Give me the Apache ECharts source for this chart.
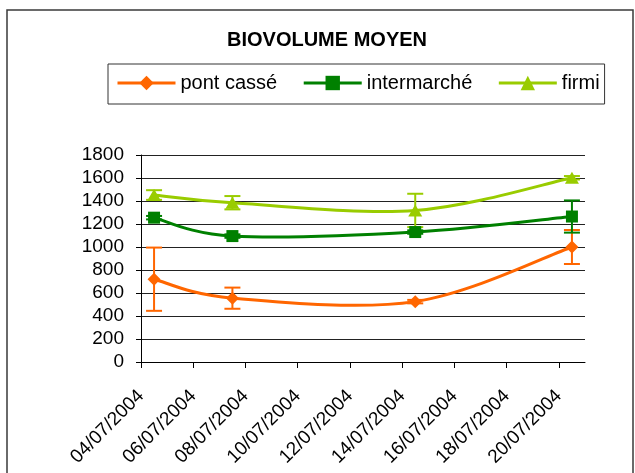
<!DOCTYPE html>
<html>
<head>
<meta charset="utf-8">
<script src="https://cdn.jsdelivr.net/npm/echarts@6/dist/echarts.min.js"></script>
<style>
  html, body { margin: 0; padding: 0; background: #fff; }
  #chart { width: 635px; height: 473px; }
</style>
</head>
<body>
<div id="chart"></div>
<script>
// axe des dates : jours comptés depuis le 04/07/2004
const xTickDays = [0, 2, 4, 6, 8, 10, 12, 14, 16];
const xTickLabels = ['04/07/2004', '06/07/2004', '08/07/2004', '10/07/2004', '12/07/2004',
  '14/07/2004', '16/07/2004', '18/07/2004', '20/07/2004'];

// jours de prélèvement (04/07, 07/07, 14/07, 20/07)
const sampleDays = [0, 3, 10, 16];

const seriesNames = ['pont cassé', 'intermarché', 'firmi'];
const pontCasse = [720, 555, 525, 1000];
const pontCasseErr = [275, 92, 15, 148];
const intermarche = [1255, 1095, 1130, 1265];
const intermarcheErr = [15, 15, 15, 140];
const firmi = [1452, 1385, 1318, 1602];
const firmiErr = [42, 58, 145, 15];

const colors = ['#ff6600', '#008000', '#99cc00'];
const symbols = ['diamond', 'rect', 'triangle'];
const symbolSizes = [13, 12, [14, 12]];

const FONT = "'Liberation Sans', Arial, sans-serif";

const chart = echarts.init(document.getElementById('chart'));

const values = [pontCasse, intermarche, firmi];
const errs = [pontCasseErr, intermarcheErr, firmiErr];

// les points sont au milieu de la case du jour (axe de dates Excel)
function lineData(vals) {
  return sampleDays.map((d, i) => [d + 0.5, vals[i]]);
}
function errData(vals, err) {
  return sampleDays.map((d, i) => [d + 0.5, vals[i], err[i]]);
}

// courbe lissée façon Excel (Catmull-Rom) à partir des coordonnées de l'axe
function smoothRender(data, color) {
  return function (params, api) {
    if (params.dataIndex !== 0) return null;
    const p = data.map(d => api.coord(d));
    let path = 'M' + p[0][0] + ' ' + p[0][1];
    for (let i = 0; i < p.length - 1; i++) {
      const p0 = p[Math.max(i - 1, 0)], p1 = p[i], p2 = p[i + 1], p3 = p[Math.min(i + 2, p.length - 1)];
      const c1x = p1[0] + (p2[0] - p0[0]) / 6, c1y = p1[1] + (p2[1] - p0[1]) / 6;
      const c2x = p2[0] - (p3[0] - p1[0]) / 6, c2y = p2[1] - (p3[1] - p1[1]) / 6;
      path += ' C' + c1x + ' ' + c1y + ' ' + c2x + ' ' + c2y + ' ' + p2[0] + ' ' + p2[1];
    }
    return {
      type: 'path',
      shape: { pathData: path },
      style: { fill: 'none', stroke: color, lineWidth: 3 }
    };
  };
}

const series = [];
values.forEach((vals, k) => {
  const data = lineData(vals);
  series.push({
    name: seriesNames[k] + ' courbe',
    type: 'custom',
    z: 2,
    data: data,
    renderItem: smoothRender(data, colors[k])
  });
  series.push({
    name: seriesNames[k] + ' err',
    type: 'custom',
    z: 3,
    data: errData(vals, errs[k]),
    renderItem: function (params, api) {
      const x = api.value(0), v = api.value(1), e = api.value(2);
      const top = api.coord([x, v + e]);
      const bot = api.coord([x, v - e]);
      const style = { stroke: colors[k], lineWidth: 2 };
      return {
        type: 'group',
        children: [
          { type: 'line', shape: { x1: top[0], y1: top[1], x2: bot[0], y2: bot[1] }, style: style },
          { type: 'line', shape: { x1: top[0] - 8, y1: top[1], x2: top[0] + 8, y2: top[1] }, style: style },
          { type: 'line', shape: { x1: bot[0] - 8, y1: bot[1], x2: bot[0] + 8, y2: bot[1] }, style: style }
        ]
      };
    }
  });
});
values.forEach((vals, k) => {
  series.push({
    name: seriesNames[k],
    type: 'line',
    z: 4,
    data: lineData(vals),
    symbol: symbols[k],
    symbolSize: symbolSizes[k],
    itemStyle: { color: colors[k] },
    lineStyle: { color: colors[k], width: 0, opacity: 0 }
  });
});

const option = {
  animation: false,
  backgroundColor: '#fff',
  graphic: [
    {
      type: 'rect',
      shape: { x: 7, y: 10, width: 626, height: 480 },
      style: { fill: 'none', stroke: '#3a3a3a', lineWidth: 1.5 },
      silent: true
    }
  ],
  title: {
    text: 'BIOVOLUME MOYEN',
    left: 322,
    top: 25,
    textAlign: 'center',
    textStyle: { fontFamily: FONT, fontSize: 20, fontWeight: 'bold', color: '#000' }
  },
  legend: {
    data: seriesNames,
    left: 108,
    top: 64,
    padding: [9, 5, 11, 8],
    itemGap: 25,
    itemWidth: 58,
    itemHeight: 18,
    borderColor: '#333',
    borderWidth: 1,
    lineStyle: { width: 3, opacity: 1 },
    textStyle: { fontFamily: FONT, fontSize: 20, color: '#000' }
  },
  grid: {
    left: 141,
    right: 50,
    top: 155,
    bottom: 111
  },
  xAxis: {
    type: 'value',
    min: 0,
    max: 17,
    axisLine: { lineStyle: { color: '#000', width: 1 } },
    axisTick: { length: 6, customValues: xTickDays, lineStyle: { color: '#000' } },
    splitLine: { show: false },
    axisLabel: {
      customValues: xTickDays,
      rotate: 45,
      margin: 31,
      fontFamily: FONT,
      fontSize: 19,
      color: '#000',
      formatter: v => xTickLabels[xTickDays.indexOf(v)]
    }
  },
  yAxis: {
    type: 'value',
    min: 0,
    max: 1800,
    interval: 200,
    axisLine: { show: true, lineStyle: { color: '#000', width: 1 } },
    axisTick: { show: true, length: 5, lineStyle: { color: '#000' } },
    splitLine: { lineStyle: { color: '#222', width: 1 } },
    axisLabel: { margin: 17, fontFamily: FONT, fontSize: 19, color: '#000', formatter: v => String(v) }
  },
  series: series
};

chart.setOption(option);
</script>
</body>
</html>
